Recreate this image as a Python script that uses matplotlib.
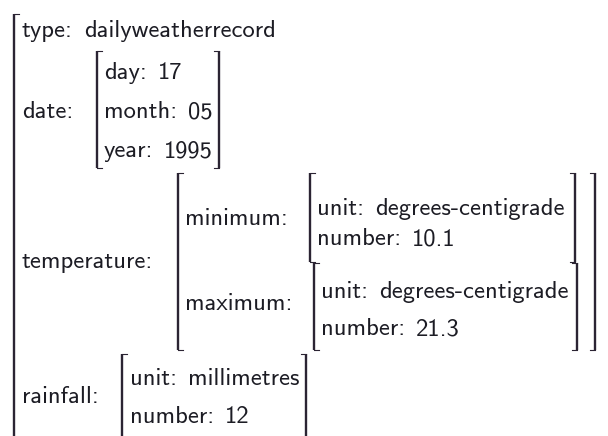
import matplotlib
matplotlib.use('Agg')
import matplotlib.pyplot as plt

# feature structure content
type_value = "dailyweatherrecord"
date_keys = ["day", "month", "year"]
date_values = ["17", "05", "1995"]
temp_keys = ["minimum", "maximum"]
temp_units = ["degrees-centigrade", "degrees-centigrade"]
temp_numbers = ["10.1", "21.3"]
rain_unit = "millimetres"
rain_number = "12"

INK = '#2b2433'
FS = 17.7
FONT = 'cmss10'
GAP = 11  # px between colon and value


def label(ax, x, y, key, value=None):
    t = ax.text(x, y, key + ":", fontsize=FS, family=FONT, color='#1c1c24',
                va='baseline', ha='left')
    if value is not None:
        r = ax.figure.canvas.get_renderer()
        bb = t.get_window_extent(renderer=r)
        x1 = ax.transData.inverted().transform((bb.x1, 0))[0]
        ax.text(x1 + GAP, y, value, fontsize=FS, family=FONT, color='#1c1c24',
                va='baseline', ha='left')


def bracket(ax, x, top, bottom, side='left', tick=5):
    ax.plot([x, x], [top, bottom], color=INK, lw=1.7, solid_capstyle='butt')
    d = tick if side == 'left' else -tick
    ax.plot([x, x + d], [top, top], color=INK, lw=0.8)
    ax.plot([x, x + d], [bottom, bottom], color=INK, lw=0.8)


fig = plt.figure(figsize=(6.08, 4.36), dpi=100)
ax = fig.add_axes([0, 0, 1, 1])
ax.set_xlim(0, 608)
ax.set_ylim(436, 0)
ax.axis('off')

# outer
bracket(ax, 14, 14, 460)
label(ax, 22, 37, "type", type_value)

# date
label(ax, 22, 118, "date")
bracket(ax, 97, 51, 168)
bracket(ax, 219, 51, 168, side='right')
for k, v, y in zip(date_keys, date_values, [79, 118, 157]):
    label(ax, 104, y, k, v)

# temperature
label(ax, 22, 268, "temperature")
bracket(ax, 178, 173, 350)
bracket(ax, 595, 173, 350, side='right')
sub_boxes = [(310, 575, 173, 262), (314, 577, 263, 350)]
key_y = [225, 310]
val_y = [(215, 245), (298, 335)]
for i, k in enumerate(temp_keys):
    label(ax, 185, key_y[i], k)
    x0, x1, t, b = sub_boxes[i]
    bracket(ax, x0, t, b)
    bracket(ax, x1, t, b, side='right')
    label(ax, x0 + 7, val_y[i][0], "unit", temp_units[i])
    label(ax, x0 + 7, val_y[i][1], "number", temp_numbers[i])

# rainfall
label(ax, 22, 403, "rainfall")
bracket(ax, 122, 354, 460)
bracket(ax, 306, 354, 460, side='right')
label(ax, 130, 385, "unit", rain_unit)
label(ax, 130, 423, "number", rain_number)

fig.savefig('out.png', dpi=100, facecolor='white')
